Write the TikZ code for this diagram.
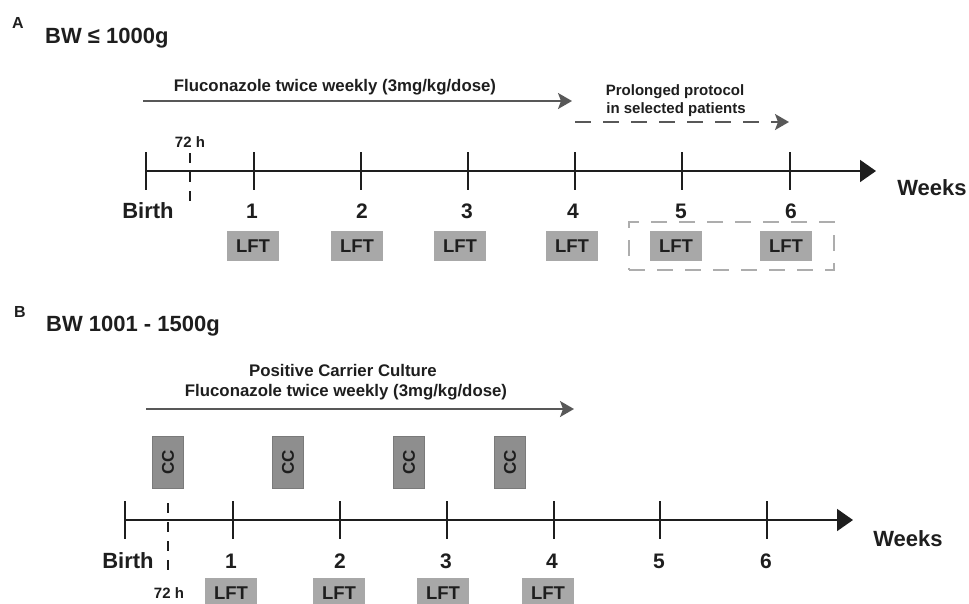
\documentclass[tikz,border=0pt]{standalone}
\usepackage{fontspec}
\setmainfont{Liberation Sans}
\usetikzlibrary{arrows.meta}
\definecolor{ink}{HTML}{1E1E1E}
\definecolor{arrowgray}{HTML}{585858}
\definecolor{lftfill}{HTML}{A8A8A8}
\definecolor{ccfill}{HTML}{8E8E8E}
\definecolor{ccdraw}{HTML}{7A7A7A}
\definecolor{boxdash}{HTML}{ADADAD}
\begin{document}
\begin{tikzpicture}[x=1pt,y=-1pt,
  fs/.style={font=\fontsize{#1}{#1}\selectfont\bfseries},
  lbl/.style={text=ink, inner sep=0pt, anchor=base, fs=#1},
  lft/.style={fill=lftfill, minimum width=52pt, minimum height=30pt, inner sep=0pt, text=ink, fs=18.5},
  ccbox/.style={fill=ccfill, draw=ccdraw, line width=0.8pt, minimum width=52pt, minimum height=31pt, inner sep=0pt, rotate=90, text=ink, fs=17},
  tickA/.style={minimum height=37pt, minimum width=0pt, inner sep=0pt},
  tickline/.style={draw=ink, line width=1.8pt},
  axis/.style={draw=ink, line width=1.8pt, -{Triangle[length=16pt,width=22pt]}},
  hline/.style={draw=ink, line width=1.6pt, dash pattern=on 10pt off 9pt},
  flarrow/.style={draw=arrowgray, line width=1.8pt, -{Stealth[length=14pt,width=16pt,inset=3pt]}},
  dasharrow/.style={flarrow, dash pattern=on 16pt off 12pt},
  protbox/.style={draw=boxdash, line width=1.6pt, dash pattern=on 16pt off 12pt, minimum width=205pt, minimum height=48pt, inner sep=0pt}
]
\path[use as bounding box] (0,0) rectangle (969,603);
\clip (0,0) rectangle (969,603);

% ================= Panel A =================
\node[lbl=16, anchor=base west] (labA) at (12,28) {A};
\node[lbl=22, anchor=base west] (titleA) at (45,43) {BW ≤ 1000g};

\node[lbl=16.8] (fluA) at (335,91) {Fluconazole twice weekly (3mg/kg/dose)};
\coordinate (flA0) at (143,101);
\coordinate (flA1) at (572,101);
\draw[flarrow] (flA0) -- (flA1);

\node[lbl=15] (protA1) at (675,95) {Prolonged protocol};
\node[lbl=15] (protA2) at (676,113) {in selected patients};
\coordinate (prA0) at (575,122);
\coordinate (prA1) at (789,122);
\draw[dasharrow] (prA0) -- (prA1);

% timeline A
\node[tickA] (tA0) at (146,171) {};
\node[tickA] (tA1) at (254,171) {};
\node[tickA] (tA2) at (361,171) {};
\node[tickA] (tA3) at (468,171) {};
\node[tickA] (tA4) at (575,171) {};
\node[tickA] (tA5) at (682,171) {};
\node[tickA] (tA6) at (790,171) {};
\coordinate (axA) at (876,171);
\draw[axis] (tA0.center) -- (axA);
\foreach \i in {0,...,6}{\draw[tickline] (tA\i.north) -- (tA\i.south);}

\coordinate (hA0) at (190,153);
\coordinate (hA1) at (190,202);
\draw[hline] (hA0) -- (hA1);
\node[lbl=15] (hlabA) at (190,147) {72 h};

\node[lbl=22] (birthA) at (148,218) {Birth};
\node[lbl=21] (nA1) at (252,218) {1};
\node[lbl=21] (nA2) at (362,218) {2};
\node[lbl=21] (nA3) at (467,218) {3};
\node[lbl=21] (nA4) at (573,218) {4};
\node[lbl=21] (nA5) at (681,218) {5};
\node[lbl=21] (nA6) at (791,218) {6};
\node[lbl=22] (weeksA) at (932,195) {Weeks};

\node[lft] (lA1) at (253,246) {LFT};
\node[lft] (lA2) at (357,246) {LFT};
\node[lft] (lA3) at (460,246) {LFT};
\node[lft] (lA4) at (572,246) {LFT};
\node[lft] (lA5) at (676,246) {LFT};
\node[lft] (lA6) at (786,246) {LFT};
\node[protbox] (boxA) at (731.5,246) {};

% ================= Panel B =================
\node[lbl=16, anchor=base west] (labB) at (14,317) {B};
\node[lbl=22, anchor=base west] (titleB) at (46,331) {BW 1001 - 1500g};

\node[lbl=16.8] (pccB) at (343,376) {Positive Carrier Culture};
\node[lbl=16.8] (fluB) at (346,396) {Fluconazole twice weekly (3mg/kg/dose)};
\coordinate (flB0) at (146,409);
\coordinate (flB1) at (574,409);
\draw[flarrow] (flB0) -- (flB1);

\node[ccbox] (cc1) at (168,462) {CC};
\node[ccbox] (cc2) at (288,462) {CC};
\node[ccbox] (cc3) at (409,462) {CC};
\node[ccbox] (cc4) at (510,462) {CC};

% timeline B
\node[tickA] (tB0) at (125,520) {};
\node[tickA] (tB1) at (233,520) {};
\node[tickA] (tB2) at (340,520) {};
\node[tickA] (tB3) at (447,520) {};
\node[tickA] (tB4) at (554,520) {};
\node[tickA] (tB5) at (660,520) {};
\node[tickA] (tB6) at (767,520) {};
\coordinate (axB) at (853,520);
\draw[axis] (tB0.center) -- (axB);
\foreach \i in {0,...,6}{\draw[tickline] (tB\i.north) -- (tB\i.south);}

\coordinate (hB0) at (168,503);
\coordinate (hB1) at (168,579);
\draw[hline] (hB0) -- (hB1);
\node[lbl=15] (hlabB) at (169,598) {72 h};

\node[lbl=22] (birthB) at (128,568) {Birth};
\node[lbl=21] (nB1) at (231,568) {1};
\node[lbl=21] (nB2) at (340,568) {2};
\node[lbl=21] (nB3) at (446,568) {3};
\node[lbl=21] (nB4) at (552,568) {4};
\node[lbl=21] (nB5) at (659,568) {5};
\node[lbl=21] (nB6) at (766,568) {6};
\node[lbl=22] (weeksB) at (908,546) {Weeks};

\node[lft] (lB1) at (231,593) {LFT};
\node[lft] (lB2) at (339,593) {LFT};
\node[lft] (lB3) at (443,593) {LFT};
\node[lft] (lB4) at (548,593) {LFT};
\end{tikzpicture}
\end{document}
